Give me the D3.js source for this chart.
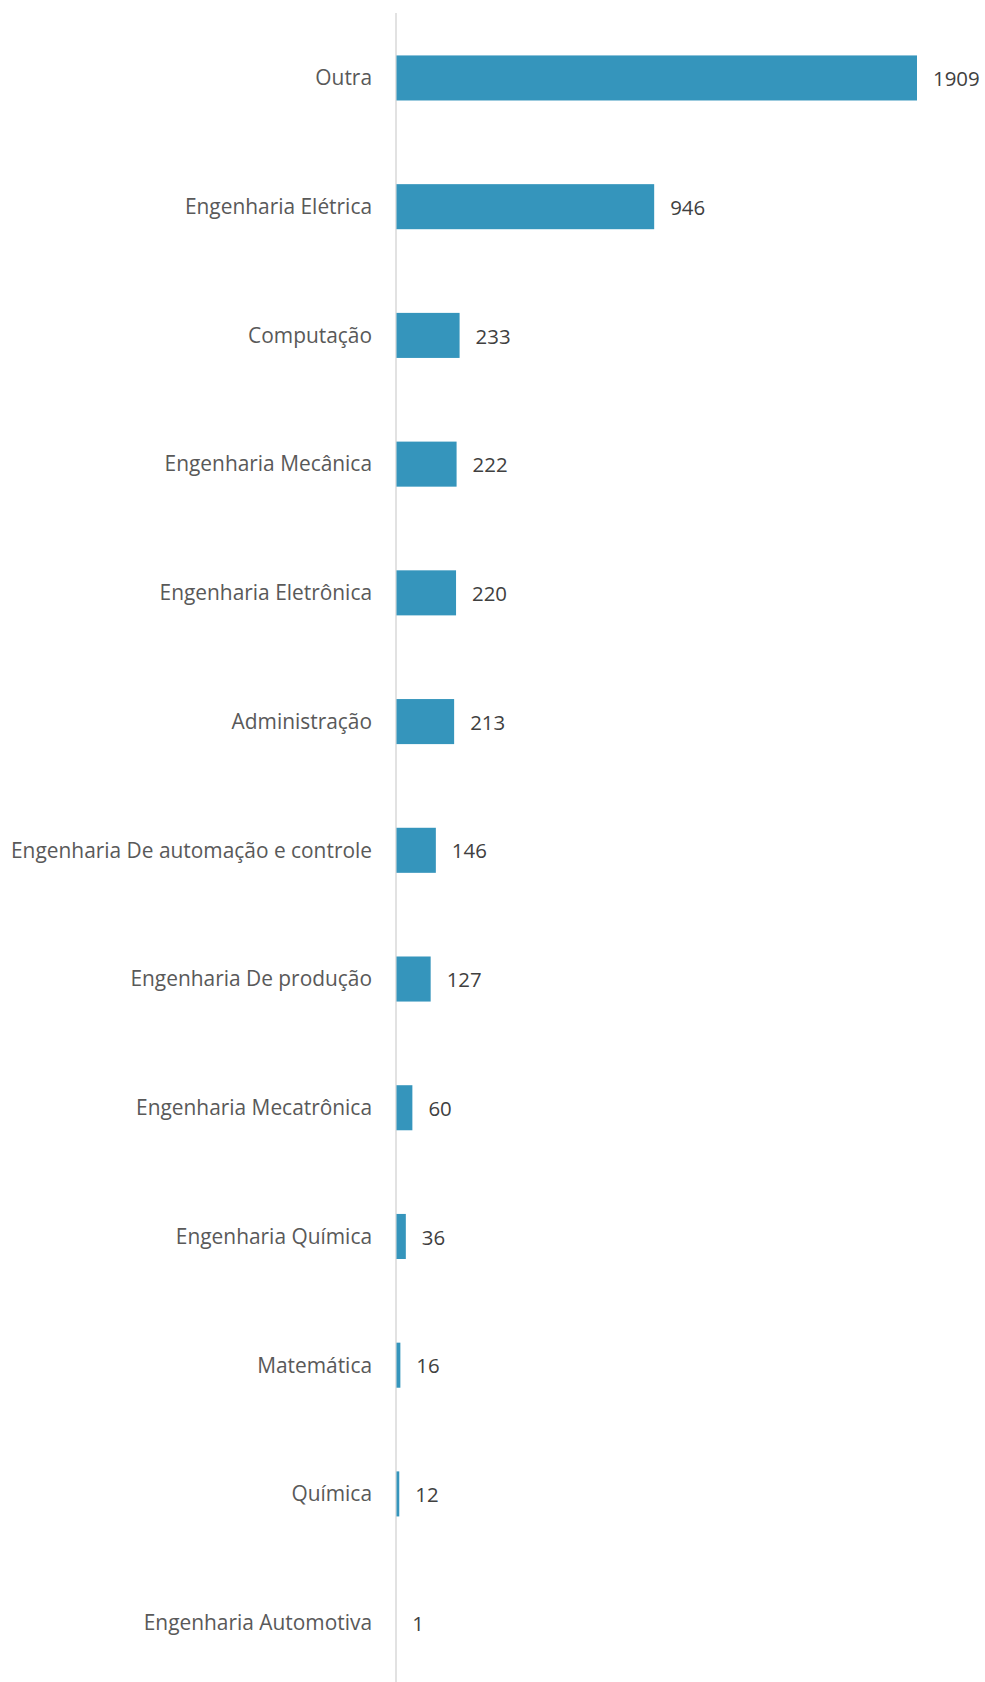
<!DOCTYPE html>
<html><head><meta charset="utf-8">
<script src="https://cdn.jsdelivr.net/npm/d3@7"></script>
<style>body{margin:0;background:#fff}svg{display:block}</style>
</head><body>
<script>
const categories = ["Outra","Engenharia Elétrica","Computação","Engenharia Mecânica","Engenharia Eletrônica","Administração","Engenharia De automação e controle","Engenharia De produção","Engenharia Mecatrônica","Engenharia Química","Matemática","Química","Engenharia Automotiva"];
const values = [1909,946,233,222,220,213,146,127,60,36,16,12,1];

const W = 985, H = 1682;
const svg = d3.select("body").append("svg").attr("width", W).attr("height", H);
const x = d3.scaleLinear().domain([0, 1909]).range([396, 917]);
const y = d3.scaleBand().domain(categories).range([13.6, 1687]).paddingInner(0.65).paddingOuter(0.325);

svg.append("line").attr("x1", 396).attr("x2", 396).attr("y1", 13).attr("y2", H)
  .attr("stroke", "#d9d9d9").attr("stroke-width", 1.5);

svg.selectAll("rect.bar").data(values).join("rect").attr("class","bar")
  .attr("x", x(0)+0.5).attr("y", (d,i)=>y(categories[i]))
  .attr("width", d=>Math.max(0, x(d)-x(0)-0.5)).attr("height", y.bandwidth())
  .attr("fill", "#3595bc");

const font = "'Open Sans', sans-serif";
svg.selectAll("text.cat").data(categories).join("text").attr("class","cat")
  .attr("x", 372).attr("y", d=>y(d)+y.bandwidth()/2).attr("dy","0.35em")
  .attr("text-anchor","end").attr("font-family", font).attr("font-size", 20.9)
  .attr("fill", "#595959").text(d=>d);

svg.selectAll("text.val").data(values).join("text").attr("class","val")
  .attr("x", d=>x(d)+16).attr("y", (d,i)=>y(categories[i])+y.bandwidth()/2).attr("dy","0.4em")
  .attr("font-family", font).attr("font-size", 20.4)
  .attr("fill", "#404040").text(d=>d);
</script>
</body></html>
